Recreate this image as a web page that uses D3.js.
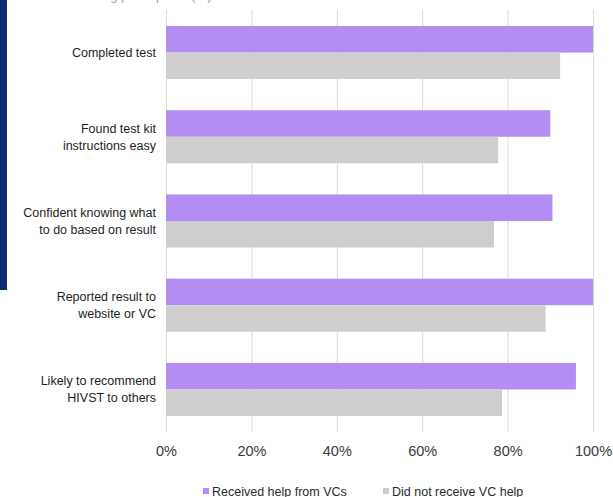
<!DOCTYPE html>
<html>
<head>
<meta charset="utf-8">
<script src="https://cdn.jsdelivr.net/npm/d3@7"></script>
<style>
  html, body { margin: 0; padding: 0; background: #fff; }
  svg { display: block; font-family: "Liberation Sans", Arial, sans-serif; }
</style>
</head>
<body>
<div id="chart"></div>
<script>
// HIVST outcomes by VC help, percent

const categories = [
  ["Completed test"],
  ["Found test kit", "instructions easy"],
  ["Confident knowing what", "to do based on result"],
  ["Reported result to", "website or VC"],
  ["Likely to recommend", "HIVST to others"]
];
const seriesNames = ["Received help from VCs", "Did not receive VC help"];
const receivedHelp = [100, 90, 90.5, 100, 96];
const noHelp = [92.3, 77.8, 76.8, 88.9, 78.7];
const xTicks = [0, 20, 40, 60, 80, 100];

const width = 613, height = 497;
const colors = ["#b28ef2", "#cfcdcd"];

const svg = d3.select("#chart").append("svg")
  .attr("width", width)
  .attr("height", height);

// cut-off heading strip on the left
svg.append("rect")
  .attr("x", 0).attr("y", 0)
  .attr("width", 7).attr("height", 290)
  .attr("fill", "#0b2a6f");

svg.append("text")
  .attr("x", 15).attr("y", 0)
  .attr("font-size", 13)
  .attr("fill", "#a0a0a0")
  .text("Outcomes among participants (%)");

const plotTop = 10, plotBottom = 432;

const x = d3.scaleLinear().domain([0, 100]).range([166, 593]);

const y = d3.scaleBand()
  .domain(d3.range(categories.length))
  .range([plotTop, plotBottom])
  .paddingInner(0.37)
  .paddingOuter(0.19);

const ySub = d3.scaleBand()
  .domain([0, 1])
  .range([0, y.bandwidth()]);

// grid + ticks
const axis = d3.axisBottom(x)
  .tickValues(xTicks)
  .tickSize(-(plotBottom - plotTop))
  .tickPadding(14)
  .tickFormat(d => d + "%");

const gAxis = svg.append("g")
  .attr("transform", `translate(0,${plotBottom})`)
  .call(axis);
gAxis.select(".domain").remove();
gAxis.selectAll(".tick line").attr("stroke", "#d9d9d9");
gAxis.selectAll(".tick text")
  .attr("font-size", 14.5)
  .attr("font-family", "Liberation Sans, Arial, sans-serif")
  .attr("fill", "#3a3a3a");

// bars
const values = [receivedHelp, noHelp];
const groups = svg.append("g").selectAll("g")
  .data(categories)
  .join("g")
  .attr("transform", (d, i) => `translate(0,${y(i)})`);

groups.selectAll("rect")
  .data((d, i) => values.map((v, s) => ({ s, v: v[i] })))
  .join("rect")
  .attr("x", x(0))
  .attr("y", d => ySub(d.s))
  .attr("width", d => x(d.v) - x(0))
  .attr("height", ySub.bandwidth())
  .attr("fill", d => colors[d.s]);

// category labels
const labels = svg.append("g").selectAll("text")
  .data(categories)
  .join("text")
  .attr("text-anchor", "end")
  .attr("font-size", 12.5)
  .attr("fill", "#1e1e1e")
  .attr("x", 156)
  .attr("y", (d, i) => y(i) + y.bandwidth() / 2);

labels.selectAll("tspan")
  .data(d => d.map((t, k) => ({ t, k, n: d.length })))
  .join("tspan")
  .attr("x", 156)
  .attr("dy", d => d.k === 0 ? (4.5 - (d.n - 1) * 8.5) : 17)
  .text(d => d.t);

// legend
const legendX = [203, 383];
const legend = svg.append("g").selectAll("g")
  .data(seriesNames)
  .join("g")
  .attr("transform", (d, i) => `translate(${legendX[i]},491)`);

legend.append("rect")
  .attr("x", 0).attr("y", -3)
  .attr("width", 6).attr("height", 6)
  .attr("fill", (d, i) => colors[i]);

legend.append("text")
  .attr("x", 9)
  .attr("y", 4.5)
  .attr("font-size", 12.5)
  .attr("fill", "#2a2a2a")
  .text(d => d);
</script>
</body>
</html>
